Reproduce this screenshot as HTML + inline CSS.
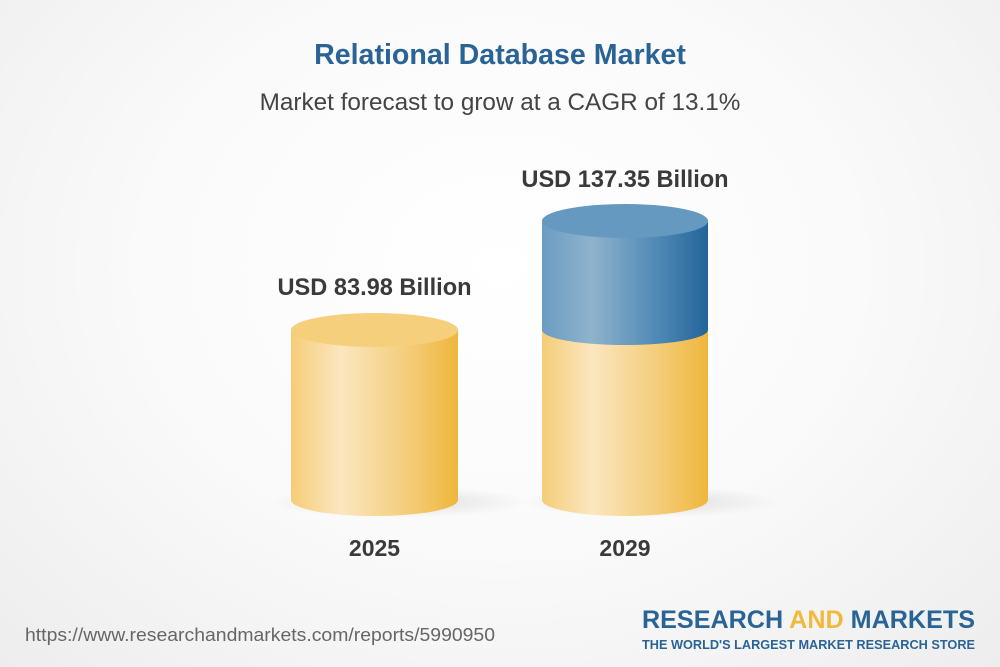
<!DOCTYPE html>
<html><head><style>
body{margin:0;width:1000px;height:667px;overflow:hidden;font-family:"Liberation Sans",sans-serif;}
.bg{position:absolute;left:0;top:0;width:1000px;height:667px;background:radial-gradient(ellipse at 50% 40%,#ffffff 0%,#fafafa 50%,#ededed 100%);}
.t{position:absolute;width:1000px;text-align:center;}
</style></head><body>
<div class="bg"></div>
<div class="t" style="top:39px;font-size:28.6px;font-weight:bold;color:#2a6496;">Relational Database Market</div>
<div class="t" style="top:89px;font-size:24.3px;color:#444;">Market forecast to grow at a CAGR of 13.1%</div>
<svg width="1000" height="667" style="position:absolute;left:0;top:0">
<defs>
<linearGradient id="y" x1="0" x2="1"><stop offset="0" stop-color="#f5cd78"/><stop offset="0.3" stop-color="#fbe6bf"/><stop offset="0.7" stop-color="#f4cd7a"/><stop offset="1" stop-color="#efb63c"/></linearGradient>
<linearGradient id="b" x1="0" x2="1"><stop offset="0" stop-color="#6b9cc2"/><stop offset="0.3" stop-color="#8fb3cc"/><stop offset="0.7" stop-color="#4f88b5"/><stop offset="1" stop-color="#23659a"/></linearGradient>
<radialGradient id="sh"><stop offset="0" stop-color="#000" stop-opacity="0.12"/><stop offset="1" stop-color="#000" stop-opacity="0"/></radialGradient>
</defs>
<ellipse cx="400" cy="502" rx="130" ry="16" fill="url(#sh)"/>
<ellipse cx="650" cy="502" rx="130" ry="16" fill="url(#sh)"/>
<path d="M291 330 L291 500 A83.5 16 0 0 0 458 500 L458 330 Z" fill="url(#y)"/>
<ellipse cx="374.5" cy="330" rx="83.5" ry="17" fill="#f6cf7c"/>
<path d="M542 330 L542 500 A83 16 0 0 0 708 500 L708 330 Z" fill="url(#y)"/>
<path d="M542 222 L542 330 A83 15 0 0 0 708 330 L708 222 Z" fill="url(#b)"/>
<ellipse cx="625" cy="221" rx="83" ry="17" fill="#6699bf"/>
<text x="374.5" y="295" text-anchor="middle" font-size="23.6" font-weight="bold" fill="#3a3a3a" font-family="Liberation Sans">USD 83.98 Billion</text>
<text x="625" y="187" text-anchor="middle" font-size="23.6" font-weight="bold" fill="#3a3a3a" font-family="Liberation Sans">USD 137.35 Billion</text>
<text x="374.5" y="556" text-anchor="middle" font-size="23" font-weight="bold" fill="#3a3a3a" font-family="Liberation Sans">2025</text>
<text x="625" y="556" text-anchor="middle" font-size="23" font-weight="bold" fill="#3a3a3a" font-family="Liberation Sans">2029</text>
<text x="25" y="641" font-size="18.5" fill="#666" font-family="Liberation Sans" textLength="470" lengthAdjust="spacingAndGlyphs">https://www.researchandmarkets.com/reports/5990950</text>
<text x="975" y="628" text-anchor="end" font-size="25" font-weight="bold" fill="#2a6496" font-family="Liberation Sans" textLength="333" lengthAdjust="spacingAndGlyphs">RESEARCH <tspan fill="#f0b93e">AND</tspan> MARKETS</text>
<text x="975" y="649" text-anchor="end" font-size="12.5" font-weight="bold" fill="#2a6496" font-family="Liberation Sans" textLength="333" lengthAdjust="spacingAndGlyphs">THE WORLD'S LARGEST MARKET RESEARCH STORE</text>
</svg>
</body></html>
